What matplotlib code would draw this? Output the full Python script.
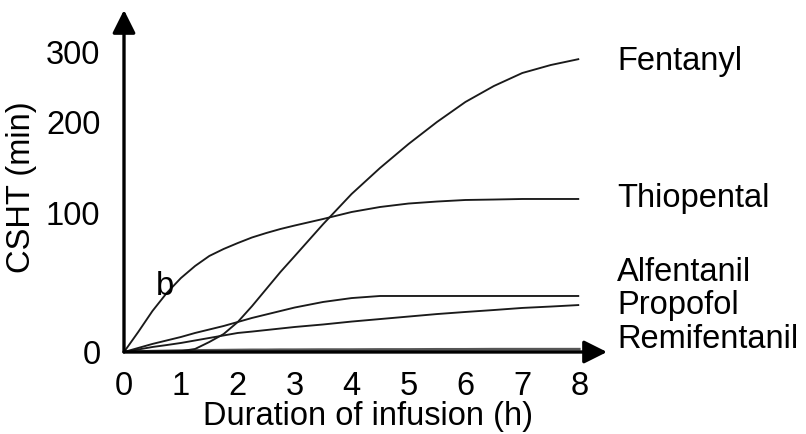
import numpy as np
import matplotlib
matplotlib.use("Agg")
import matplotlib.pyplot as plt

plt.rcParams['font.family'] = ['Liberation Sans', 'DejaVu Sans']

# ---- data (CSHT in minutes vs infusion duration in hours) ----
hours = [0, 0.25, 0.5, 0.75, 1, 1.25, 1.5, 1.75, 2, 2.25, 2.5, 2.75, 3,
         3.5, 4, 4.5, 5, 5.5, 6, 6.5, 7, 7.5, 8]
fentanyl = [0, 0, 0.14, 0.3, 0.6, 2.2, 7.2, 12.9, 21.6, 33, 45.3, 57.6, 69,
            92, 120.9, 149.5, 175.8, 200, 228.6, 251.4, 270, 281.4, 290]
thiopental = [0, 14.4, 29.5, 42.4, 53.2, 61.9, 69.1, 74.1, 78.4, 82.4, 85.6, 88.5, 91.0,
              95.7, 101.1, 106.6, 110.4, 112.6, 114.3, 114.8, 115.4, 115.4, 115.4]
alfentanil = [0, 2.9, 5.8, 8.3, 10.8, 13.7, 16.2, 18.7, 21.6, 24.5, 27.0, 29.5, 32.0,
              36.0, 38.8, 40.3, 40.3, 40.3, 40.3, 40.3, 40.3, 40.3, 40.3]
propofol = [0, 1.8, 3.6, 5.0, 6.5, 8.3, 10.1, 11.9, 13.7, 14.7, 15.8, 16.9, 18.0,
            19.8, 21.9, 23.7, 25.5, 27.3, 28.8, 30.2, 31.7, 32.7, 33.8]
remifentanil = [0, 0.3, 0.6, 0.8, 1.0, 1.1, 1.2, 1.3, 1.4, 1.5, 1.5, 1.6, 1.6,
                1.7, 1.7, 1.8, 1.8, 1.9, 1.9, 2.0, 2.0, 2.0, 2.0]

drugs = ["Fentanyl", "Thiopental", "Alfentanil", "Propofol", "Remifentanil"]
xticks = [0, 1, 2, 3, 4, 5, 6, 7, 8]
yticks = [0, 100, 200, 300]

# non-linear (hand-drawn) vertical scale of the original figure
_V = np.array([-100.0, 0.0, 100.0, 200.0, 300.0, 500.0])
_D = np.array([-139.0, 0.0, 139.0, 230.0, 300.0, 440.0])


def fwd(v):
    return np.interp(v, _V, _D)


def inv(d):
    return np.interp(d, _D, _V)


W, H = 806, 434
fig = plt.figure(figsize=(W / 100, H / 100), dpi=100)
x0, y0 = 124, 352          # origin in pixels
xtip, ytip = 607, 10
ax = fig.add_axes([x0 / W, (H - y0) / H, (xtip - x0) / W, (y0 - ytip) / H])
ax.set_yscale('function', functions=(fwd, inv))
ax.set_xlim(0, (xtip - x0) / 56.9)
ax.set_ylim(0, inv(y0 - ytip))

for s in ax.spines.values():
    s.set_visible(False)

fs = 23.5
lc = '#1a1a1a'
for series in (fentanyl, thiopental, alfentanil, propofol):
    ax.plot(hours, series, color=lc, lw=1.35, solid_capstyle='butt',
            solid_joinstyle='round', zorder=3)
ax.plot(hours, remifentanil, color='#555555', lw=2.0, zorder=2)

# axes with arrows
arrow = dict(arrowstyle='-|>,head_length=1.0,head_width=0.5', lw=2.4,
             color='black', shrinkA=0, shrinkB=0, mutation_scale=14)
ax.annotate('', xy=(1, 0), xytext=(0, 0), xycoords='axes fraction',
            arrowprops=arrow, zorder=4)
ax.annotate('', xy=(0, 1), xytext=(0, 0), xycoords='axes fraction',
            arrowprops=arrow, zorder=4)

ax.set_xticks(xticks)
ax.set_xticklabels([str(t) for t in xticks])
ax.set_yticks(yticks)
ax.set_yticklabels([str(t) for t in yticks])
ax.tick_params(axis='both', length=0, labelsize=fs, colors='black')
ax.tick_params(axis='y', pad=17)
ax.tick_params(axis='x', pad=14)

ax.set_xlabel("Duration of infusion (h)", fontsize=fs)
ax.xaxis.set_label_coords((368 - x0) / (xtip - x0), (y0 - 417) / (y0 - ytip))
ax.xaxis.label.set_va('center')
ax.set_ylabel("CSHT (min)", fontsize=fs)
ax.yaxis.set_label_coords((22 - x0) / (xtip - x0), (y0 - 187) / (y0 - ytip))
ax.yaxis.label.set_va('center')

# curve labels (baselines in pixel rows)
label_rows = [70, 207, 281, 314, 348]
for name, row in zip(drugs, label_rows):
    fig.text(617 / W, 1 - row / H, name, ha='left', va='baseline', fontsize=fs)

fig.text(156 / W, 1 - 295 / H, "b", ha='left', va='baseline', fontsize=fs)

fig.savefig("out.png", dpi=100)
